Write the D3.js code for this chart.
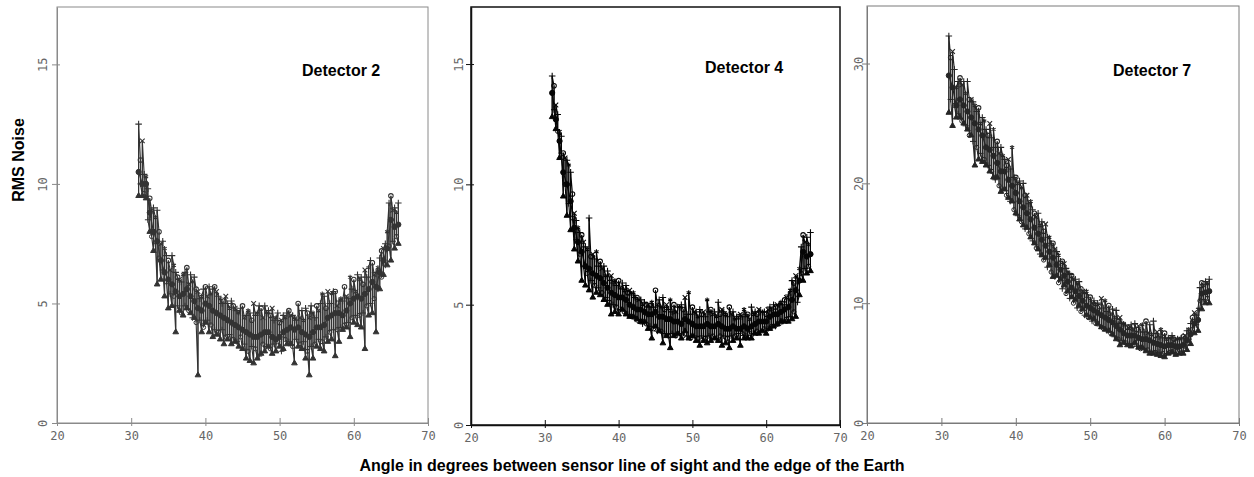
<!DOCTYPE html>
<html>
<head>
<meta charset="utf-8">
<script src="https://cdn.jsdelivr.net/npm/d3@7"></script>
<style>
  body { margin: 0; background: #fff; }
  svg { display: block; }
  .tick text { font-family: "DejaVu Sans Mono", monospace; font-size: 12px; fill: #666; }
  .title { font-family: "Liberation Sans", Arial, sans-serif; font-weight: bold; font-size: 16px; fill: #000; }
</style>
</head>
<body>
<div id="chart"></div>
<script>
// angle (degrees) of each sample, shared by all three detectors
const angles = [31,31.5,32,32.5,33,33.5,34,34.5,35,35.5,36,36.5,37,37.5,38,38.5,39,39.5,40,40.5,
  41,41.5,42,42.5,43,43.5,44,44.5,45,45.5,46,46.5,47,47.5,48,48.5,49,49.5,50,50.5,
  51,51.5,52,52.5,53,53.5,54,54.5,55,55.5,56,56.5,57,57.5,58,58.5,59,59.5,60,60.5,
  61,61.5,62,62.5,63,63.5,64,64.5,65,65.5,66];
// in-between scans (high / low only)
const anglesB = [31.25,31.75,32.25,32.75,33.25,33.75,34.25,34.75,35.25,35.75,36.25,36.75,37.25,37.75,38.25,38.75,39.25,39.75,40.25,40.75,
  41.25,41.75,42.25,42.75,43.25,43.75,44.25,44.75,45.25,45.75,46.25,46.75,47.25,47.75,48.25,48.75,49.25,49.75,50.25,50.75,
  51.25,51.75,52.25,52.75,53.25,53.75,54.25,54.75,55.25,55.75,56.25,56.75,57.25,57.75,58.25,58.75,59.25,59.75,60.25,60.75,
  61.25,61.75,62.25,62.75,63.25,63.75,64.25,64.75,65.25,65.75];

const xTicks = [20, 30, 40, 50, 60, 70];

// Detector 2 : high / middle / low reading at each angle
const d2Hi = [12.5,11.8,10.3,9.4,9.0,8.9,7.5,7.3,6.8,7.0,6.3,6.0,6.2,6.5,6.2,6.1,5.5,5.3,5.7,5.7,
  5.6,5.5,5.2,5.1,5.0,5.1,4.8,4.6,4.9,4.5,4.6,5.0,4.6,4.8,4.9,4.7,4.8,4.4,4.2,4.5,
  4.6,4.5,4.4,5.0,4.7,4.8,4.4,4.6,4.9,5.0,5.3,5.5,5.4,5.5,5.1,5.1,5.3,6.1,6.0,6.2,
  6.1,6.4,6.5,6.7,6.3,6.9,7.3,8.0,9.5,9.0,9.2];
const d2Mid = [10.5,10.0,10.0,8.8,8.0,7.6,6.8,6.3,6.0,5.8,5.5,5.3,5.4,5.6,5.3,5.1,4.8,4.7,5.0,4.9,
  4.7,4.6,4.5,4.4,4.3,4.2,4.1,4.0,3.9,3.8,3.7,3.6,3.6,3.7,3.8,3.8,3.6,3.5,3.6,3.8,
  3.9,4.0,3.9,4.0,3.8,3.7,3.6,3.8,4.0,4.0,4.1,4.4,4.5,4.6,4.6,4.5,4.7,5.0,5.2,5.3,
  5.2,5.4,5.6,5.9,5.7,6.3,6.8,7.3,8.5,8.2,8.3];
const d2Lo = [9.5,9.5,9.4,8.0,7.2,5.8,6.0,5.3,4.8,4.9,3.8,4.7,4.5,4.8,4.6,4.4,2.0,3.8,4.2,3.8,
  3.6,3.7,3.5,3.3,3.5,3.3,3.4,3.2,3.1,2.7,2.6,2.5,2.7,2.9,3.0,3.2,2.9,3.0,3.2,3.1,
  3.3,3.3,2.5,3.2,3.1,2.7,2.0,2.7,3.2,3.1,3.0,3.4,3.5,2.8,3.4,3.9,4.0,3.6,4.2,4.1,
  4.0,3.1,4.5,4.6,3.8,5.6,6.2,6.6,6.8,7.3,7.5];
const d2HiB = [11.0,10.4,9.8,8.9,8.6,8.0,7.6,7.0,6.4,6.6,6.1,5.9,6.3,5.8,5.9,5.6,5.2,5.6,5.3,5.4,
  5.7,5.3,5.0,5.3,4.8,4.9,4.7,4.8,4.4,4.7,4.3,4.5,4.9,4.4,4.6,4.5,4.3,4.6,4.3,4.4,
  4.7,4.5,4.3,4.4,4.3,4.6,4.9,4.4,4.7,5.4,4.8,5.0,5.5,4.9,5.2,5.7,5.2,5.6,5.5,6.0,
  5.8,6.1,6.8,6.2,6.5,7.2,7.5,9.2,8.9,8.8];
const d2LoB = [10.0,9.6,8.5,7.8,7.5,6.9,6.4,5.9,5.4,5.3,4.9,4.6,4.9,4.7,4.4,4.2,4.3,4.0,4.3,4.1,
  3.9,3.8,3.9,3.6,3.7,3.5,3.4,3.6,3.3,3.0,3.2,3.1,2.8,3.3,3.2,3.1,3.3,3.4,3.0,3.5,
  3.4,3.2,3.5,3.3,3.4,3.0,3.2,3.3,3.5,3.4,3.6,3.8,3.9,3.9,4.0,4.1,4.2,4.4,4.5,4.5,
  4.6,4.9,5.0,5.2,5.6,6.1,6.6,7.4,7.6,7.8];

// Detector 4
const d4Hi = [14.5,13.3,12.2,11.3,11.0,10.5,8.8,8.2,7.9,7.4,8.6,7.1,7.2,6.8,6.6,6.4,6.2,6.0,6.0,5.9,
  5.8,5.6,5.5,5.3,5.2,5.1,5.0,5.1,5.6,5.2,5.3,5.0,5.2,5.0,4.9,5.0,5.3,5.5,4.9,4.7,
  4.8,4.7,5.2,4.8,4.7,5.1,4.8,4.6,4.9,4.7,4.5,4.6,4.8,4.6,4.9,4.7,4.8,4.7,4.6,4.9,
  5.0,5.0,5.1,5.2,5.4,6.0,6.2,6.5,7.9,7.8,8.0];
const d4Mid = [13.8,12.7,11.8,10.5,10.0,9.3,8.2,7.6,7.2,6.6,6.5,6.3,6.2,6.1,5.9,5.7,5.5,5.4,5.3,5.3,
  5.2,5.0,4.9,4.8,4.8,4.7,4.6,4.6,4.7,4.5,4.5,4.4,4.4,4.3,4.3,4.2,4.4,4.3,4.2,4.1,
  4.1,4.1,4.2,4.1,4.1,4.2,4.1,4.0,4.0,4.1,4.0,4.0,4.1,4.0,4.1,4.2,4.3,4.3,4.3,4.5,
  4.6,4.6,4.7,4.8,4.9,5.2,5.6,6.0,7.2,7.0,7.1];
const d4Lo = [12.8,12.3,11.1,9.5,8.7,8.1,7.3,6.8,6.0,5.8,5.6,5.3,5.5,5.4,5.2,5.0,4.6,4.7,4.6,4.8,
  4.6,4.5,4.5,4.4,4.3,4.3,4.0,3.6,4.1,3.9,3.4,3.7,3.2,3.7,3.8,3.6,3.9,3.6,3.7,3.5,
  3.3,3.5,3.4,3.5,3.6,3.5,3.3,3.4,3.2,3.5,3.6,3.3,3.6,3.6,3.6,3.8,3.8,3.9,3.8,4.0,
  4.1,4.2,4.3,4.3,4.3,4.4,4.5,5.4,6.0,6.3,6.4];
const d4HiB = [14.1,12.9,12.0,11.1,10.8,9.6,8.5,8.0,7.6,7.3,7.0,6.9,6.6,6.5,6.2,6.1,5.9,5.8,5.7,5.6,
  5.5,5.4,5.3,5.2,5.0,5.0,4.9,4.9,5.0,4.9,4.8,4.8,4.7,4.7,4.9,4.8,4.6,4.6,4.7,4.5,
  4.6,4.5,4.7,4.6,4.5,4.6,4.7,4.5,4.6,4.4,4.5,4.5,4.6,4.4,4.6,4.6,4.7,4.7,4.8,4.8,
  4.9,5.0,5.0,5.3,5.6,5.9,6.1,7.4,7.6,7.5];
const d4LoB = [13.1,12.2,11.3,10.0,9.2,8.6,7.7,7.1,6.6,6.3,6.0,5.8,5.7,5.5,5.3,5.1,5.0,4.9,4.8,4.7,
  4.6,4.5,4.4,4.3,4.2,4.2,4.1,4.0,3.9,3.9,3.8,3.7,3.8,3.7,3.8,3.7,3.7,3.6,3.7,3.6,
  3.7,3.6,3.7,3.7,3.6,3.7,3.7,3.6,3.7,3.7,3.8,3.8,3.7,3.8,3.8,3.9,3.9,4.0,4.0,4.1,
  4.1,4.2,4.3,4.4,4.5,4.7,5.1,6.3,6.5,6.6];

// Detector 7
const d7Hi = [32.3,31.0,28.0,28.8,28.5,28.5,27.0,26.5,26.3,25.5,24.5,25.0,24.5,23.5,23.0,22.0,22.0,23.0,20.5,20.2,
  20.0,19.0,18.5,17.5,17.5,16.8,16.6,15.5,15.0,14.3,13.5,13.3,12.6,12.3,12.0,11.8,11.0,11.0,10.5,10.2,
  10.0,10.4,10.2,9.8,9.5,9.4,8.8,8.3,8.0,8.2,8.3,8.1,8.2,8.5,8.2,8.5,7.6,7.8,7.5,7.1,
  7.3,7.0,7.0,7.2,7.7,8.3,9.2,9.5,11.7,11.8,12.0];
const d7Mid = [29.0,28.0,26.5,27.0,26.5,26.0,25.5,25.0,24.5,24.0,23.0,22.8,22.3,21.7,21.0,21.0,20.3,19.8,19.2,18.5,
  18.0,17.5,17.0,16.3,15.8,15.3,14.8,14.3,13.8,13.2,12.8,12.3,11.8,11.3,11.0,10.6,10.2,9.8,9.6,9.4,
  9.2,9.0,8.8,8.6,8.4,8.1,7.8,7.5,7.3,7.3,7.3,7.1,7.0,7.0,6.9,6.7,6.6,6.5,6.4,6.5,
  6.5,6.4,6.4,6.5,6.9,7.4,8.3,8.6,10.8,10.9,11.0];
const d7Lo = [25.9,24.8,25.5,25.5,25.0,24.5,24.0,21.5,22.0,21.8,21.5,21.0,20.5,20.5,19.3,19.5,18.8,18.5,17.5,17.0,
  16.5,16.3,15.5,15.0,14.5,14.0,13.8,13.2,12.2,12.3,12.0,11.5,11.0,10.5,10.3,9.8,9.5,9.0,8.8,8.7,
  8.3,8.0,7.8,7.7,7.4,7.0,6.5,6.7,6.5,6.4,6.7,6.3,6.3,6.0,5.8,5.8,5.7,5.6,5.5,5.8,
  5.9,5.7,5.8,5.8,6.1,6.6,7.5,7.7,9.5,10.0,10.0];
const d7HiB = [30.5,29.5,28.5,28.2,27.5,27.0,26.8,26.0,25.0,25.2,24.0,23.8,23.0,22.5,22.3,21.5,21.2,20.5,20.0,19.6,
  19.0,18.3,17.8,17.2,16.5,16.0,15.5,15.0,14.5,14.0,13.5,12.9,12.4,12.0,11.6,11.2,10.8,10.5,10.0,9.9,
  9.7,9.6,9.3,9.1,8.8,8.5,8.3,8.1,7.9,7.8,7.8,7.6,7.6,7.5,7.4,7.3,7.2,7.1,7.0,7.1,
  7.0,7.0,7.1,7.3,7.8,8.8,9.0,11.3,11.5,11.6];
const d7LoB = [27.0,26.5,25.8,25.2,24.8,24.0,23.5,23.0,22.5,22.0,21.5,21.0,20.3,19.8,19.5,19.0,18.5,17.8,17.3,16.8,
  16.2,15.8,15.2,14.6,14.1,13.6,13.0,12.6,12.2,11.7,11.2,10.8,10.4,10.0,9.6,9.3,9.0,8.8,8.5,8.3,
  8.1,7.9,7.7,7.5,7.2,7.0,6.9,6.7,6.6,6.5,6.4,6.2,6.1,6.1,6.0,5.9,5.9,5.8,5.8,5.9,
  5.9,6.0,6.0,6.4,7.0,7.8,8.2,10.2,10.3,10.4];

// panel layout (pixels) and look
const panels = [
  { title: 'Detector 2', hi: d2Hi, mid: d2Mid, lo: d2Lo, hiB: d2HiB, loB: d2LoB, yMax: 17.4, yStep: 5,
    left: 57, right: 428, top: 7, bottom: 423, titleX: 302, titleY: 76,
    frame: '#8a8a8a', frameW: 1, ink: '#333', labelDx: 14 },
  { title: 'Detector 4', hi: d4Hi, mid: d4Mid, lo: d4Lo, hiB: d4HiB, loB: d4LoB, yMax: 17.37, yStep: 5,
    left: 471, right: 840, top: 7, bottom: 425, titleX: 705, titleY: 73,
    frame: '#111', frameW: 1.5, ink: '#050505', labelDx: 12 },
  { title: 'Detector 7', hi: d7Hi, mid: d7Mid, lo: d7Lo, hiB: d7HiB, loB: d7LoB, yMax: 34.8, yStep: 10,
    left: 867, right: 1239, top: 6, bottom: 423, titleX: 1113, titleY: 76,
    frame: '#7a7a7a', frameW: 1, ink: '#262626', labelDx: 8 }
];

const width = 1254, height = 477;

const svg = d3.select('#chart').append('svg')
  .attr('width', width)
  .attr('height', height);

panels.forEach(drawPanel);

// shared axis titles
svg.append('text')
  .attr('class', 'title')
  .attr('transform', 'translate(24,160) rotate(-90)')
  .attr('text-anchor', 'middle')
  .text('RMS Noise');

svg.append('text')
  .attr('class', 'title')
  .attr('x', 632)
  .attr('y', 471)
  .attr('text-anchor', 'middle')
  .text('Angle in degrees between sensor line of sight and the edge of the Earth');

function drawPanel(p) {
  const x = d3.scaleLinear().domain([20, 70]).range([p.left, p.right]);
  const y = d3.scaleLinear().domain([0, p.yMax]).range([p.bottom, p.top]);

  const g = svg.append('g');

  // frame
  g.append('rect')
    .attr('x', p.left).attr('y', p.top)
    .attr('width', p.right - p.left).attr('height', p.bottom - p.top)
    .attr('fill', 'none')
    .attr('stroke', p.frame)
    .attr('stroke-width', p.frameW);

  // x axis, ticks cross the line
  const xAxis = g.append('g')
    .attr('transform', `translate(0,${p.bottom})`)
    .call(d3.axisBottom(x).tickValues(xTicks).tickSizeOuter(0).tickFormat(d3.format('d')));
  xAxis.select('.domain').attr('stroke', p.frame).attr('stroke-width', p.frameW);
  xAxis.selectAll('.tick line').attr('y1', 3).attr('y2', -5).attr('stroke', p.frame);
  xAxis.selectAll('.tick text').attr('y', 8);

  // y axis with rotated labels
  const yTicks = d3.range(0, p.yMax, p.yStep);
  const yAxis = g.append('g')
    .attr('transform', `translate(${p.left},0)`)
    .call(d3.axisLeft(y).tickValues(yTicks).tickSizeOuter(0));
  yAxis.select('.domain').attr('stroke', p.frame).attr('stroke-width', p.frameW);
  yAxis.selectAll('.tick line').attr('x1', -5).attr('x2', 3).attr('stroke', p.frame);
  yAxis.selectAll('.tick text')
    .attr('x', null)
    .attr('text-anchor', 'middle')
    .attr('transform', `translate(${-p.labelDx},0) rotate(-90)`)
    .attr('dy', '0.35em');

  // merge main and in-between scans, in angle order
  const pts = angles.map((a, i) => ({ a, hi: p.hi[i], mid: p.mid[i], lo: p.lo[i] }))
    .concat(anglesB.map((a, i) => ({ a, hi: p.hiB[i], mid: null, lo: p.loB[i] })))
    .sort((u, v) => u.a - v.a);
  const withMid = pts.filter(d => d.mid !== null);

  const marks = g.append('g')
    .attr('stroke', p.ink)
    .attr('fill', 'none');

  // vertical spread at each angle
  marks.selectAll('line.spread')
    .data(pts)
    .join('line')
    .attr('class', 'spread')
    .attr('x1', d => x(d.a)).attr('x2', d => x(d.a))
    .attr('y1', d => y(d.lo)).attr('y2', d => y(d.hi))
    .attr('stroke-width', 1);

  // connecting lines between successive readings
  const line = d3.line().x(d => x(d[0])).y(d => y(d[1]));
  const zig = [];
  pts.forEach((d, i) => {
    if (i % 2) { zig.push([d.a, d.hi]); zig.push([d.a, d.lo]); }
    else { zig.push([d.a, d.lo]); zig.push([d.a, d.hi]); }
  });
  marks.append('path')
    .attr('d', line(zig))
    .attr('stroke-width', 1.1);
  marks.append('path')
    .attr('d', line(withMid.map(d => [d.a, d.mid])))
    .attr('stroke-width', 1.2);

  // plotting symbols
  const hiTypes = [d3.symbolPlus, d3.symbolCircle, d3.symbolTimes, d3.symbolPlus, d3.symbolAsterisk];
  const loTypes = [d3.symbolTriangle, d3.symbolPlus, d3.symbolTriangle, d3.symbolCircle];
  marks.selectAll('path.hi')
    .data(pts)
    .join('path')
    .attr('class', 'hi')
    .attr('transform', d => `translate(${x(d.a)},${y(d.hi)})`)
    .attr('d', (d, i) => d3.symbol().type(hiTypes[i % hiTypes.length]).size(16)())
    .attr('stroke-width', 1.1);
  marks.selectAll('path.lo')
    .data(pts)
    .join('path')
    .attr('class', 'lo')
    .attr('transform', d => `translate(${x(d.a)},${y(d.lo)})`)
    .attr('d', (d, i) => d3.symbol().type(loTypes[i % loTypes.length]).size(14)())
    .attr('fill', (d, i) => i % 2 ? 'none' : p.ink)
    .attr('stroke-width', 1);
  marks.selectAll('circle.mid')
    .data(withMid)
    .join('circle')
    .attr('class', 'mid')
    .attr('cx', d => x(d.a))
    .attr('cy', d => y(d.mid))
    .attr('r', 2.6)
    .attr('fill', p.ink);

  // detector label
  g.append('text')
    .attr('class', 'title')
    .attr('x', p.titleX)
    .attr('y', p.titleY)
    .text(p.title);
}
</script>
</body>
</html>
